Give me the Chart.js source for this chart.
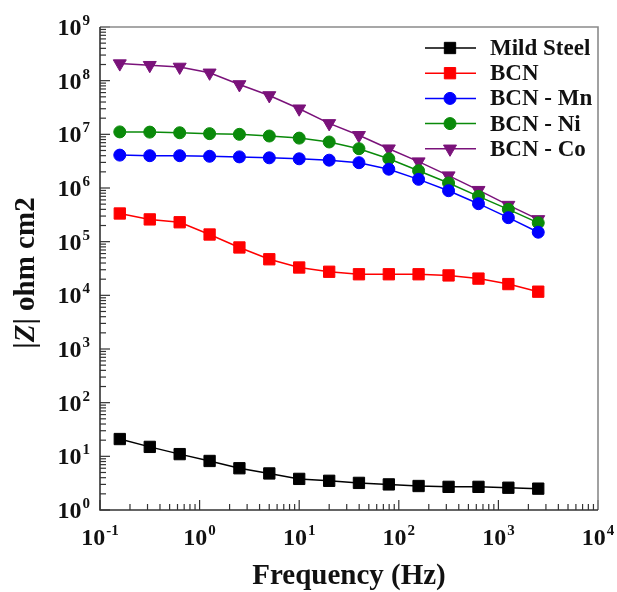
<!DOCTYPE html>
<html><head><meta charset="utf-8">
<script src="https://cdn.jsdelivr.net/npm/chart.js@4"></script>
<style>html,body{margin:0;padding:0;background:#fff}#wrap{width:617px;height:592px}</style>
</head><body><div id="wrap"><canvas id="c" width="617" height="592"></canvas></div>
<script>
// ---- data ----
const frequencies = [0.158, 0.316, 0.631, 1.26, 2.51, 5.01, 10, 20, 39.8, 79.4, 158, 316, 631, 1259, 2512];
const mildSteel = [21, 15, 11, 8.2, 6.0, 4.8, 3.8, 3.5, 3.2, 3.0, 2.8, 2.7, 2.7, 2.6, 2.5];
const bcn = [3.35e5, 2.6e5, 2.3e5, 1.36e5, 7.8e4, 4.7e4, 3.3e4, 2.75e4, 2.47e4, 2.47e4, 2.47e4, 2.35e4, 2.05e4, 1.62e4, 1.17e4];
const bcnMn = [4.1e6, 4.0e6, 4.0e6, 3.9e6, 3.8e6, 3.65e6, 3.5e6, 3.3e6, 2.96e6, 2.24e6, 1.45e6, 8.9e5, 5.1e5, 2.8e5, 1.5e5];
const bcnNi = [1.11e7, 1.1e7, 1.07e7, 1.03e7, 1.0e7, 9.3e6, 8.5e6, 7.2e6, 5.4e6, 3.5e6, 2.1e6, 1.24e6, 7.0e5, 4.0e5, 2.24e5];
const bcnCo = [2.08e8, 1.94e8, 1.8e8, 1.4e8, 8.5e7, 5.3e7, 3.0e7, 1.6e7, 9.6e6, 5.4e6, 3.1e6, 1.7e6, 9.1e5, 4.8e5, 2.6e5];
const seriesLabels = ['Mild Steel', 'BCN', 'BCN - Mn', 'BCN - Ni', 'BCN - Co'];
const xTickExponents = [-1, 0, 1, 2, 3, 4];
const yTickExponents = [0, 1, 2, 3, 4, 5, 6, 7, 8, 9];
const xTitle = 'Frequency (Hz)';

const FONT = '"Liberation Serif", "Times New Roman", serif';
const series = [mildSteel, bcn, bcnMn, bcnNi, bcnCo];
const colors = ['#000000', '#ff0000', '#0000ff', '#0a8a0a', '#7a127a'];
const styles = [
  {pointStyle: 'rect', radius: 8, rotation: 0},
  {pointStyle: 'rect', radius: 8, rotation: 0},
  {pointStyle: 'circle', radius: 6, rotation: 0},
  {pointStyle: 'circle', radius: 6, rotation: 0},
  {pointStyle: 'triangle', radius: 7.5, rotation: 180}
];

const datasets = series.map((vals, i) => ({
  label: seriesLabels[i],
  data: vals.map((v, j) => ({x: frequencies[j], y: v})),
  borderColor: colors[i],
  backgroundColor: colors[i],
  borderWidth: 1.5,
  pointStyle: styles[i].pointStyle,
  pointRadius: styles[i].radius,
  pointRotation: styles[i].rotation,
  pointBorderWidth: 1,
  pointBackgroundColor: colors[i],
  pointBorderColor: colors[i],
  tension: 0
}));

function drawPow(ctx, e, x, y, align) {
  ctx.font = 'bold 24px ' + FONT;
  const w1 = ctx.measureText('10').width;
  ctx.font = 'bold 15px ' + FONT;
  const es = String(e);
  const w2 = ctx.measureText(es).width;
  const total = w1 + w2 + 1;
  let sx = align === 'center' ? x - total / 2 : x - total;
  ctx.textAlign = 'left';
  ctx.textBaseline = 'alphabetic';
  ctx.font = 'bold 24px ' + FONT;
  ctx.fillText('10', sx, y);
  ctx.font = 'bold 15px ' + FONT;
  ctx.fillText(es, sx + w1 + 1, y - 10);
}

const decor = {
  id: 'decor',
  beforeDatasetsDraw(chart) {
    const {ctx, chartArea: a, scales: {x, y}} = chart;
    ctx.save();
    ctx.lineWidth = 1.2;
    ctx.strokeStyle = '#333';
    for (let i = 0; i < yTickExponents.length; i++) {
      const e = yTickExponents[i];
      for (let k = 1; k <= 9; k++) {
        const v = k * Math.pow(10, e);
        if (v > y.max || v < y.min) continue;
        const py = y.getPixelForValue(v);
        const len = k === 1 ? 10 : 6;
        ctx.beginPath(); ctx.moveTo(a.left, py); ctx.lineTo(a.left + len, py); ctx.stroke();
      }
    }
    for (let i = 0; i < xTickExponents.length; i++) {
      const e = xTickExponents[i];
      for (let k = 1; k <= 9; k++) {
        const v = k * Math.pow(10, e);
        if (v > x.max * 1.0001 || v < x.min * 0.9999) continue;
        const px = x.getPixelForValue(v);
        const len = k === 1 ? 10 : 6;
        ctx.beginPath(); ctx.moveTo(px, a.bottom); ctx.lineTo(px, a.bottom - len); ctx.stroke();
      }
    }
    ctx.lineWidth = 1.6;
    ctx.strokeStyle = '#8a8a8a';
    ctx.beginPath(); ctx.moveTo(a.left, a.top); ctx.lineTo(a.right, a.top); ctx.lineTo(a.right, a.bottom); ctx.stroke();
    ctx.strokeStyle = '#333';
    ctx.beginPath(); ctx.moveTo(a.left, a.top); ctx.lineTo(a.left, a.bottom); ctx.lineTo(a.right, a.bottom); ctx.stroke();
    ctx.restore();
  },
  afterDraw(chart) {
    const {ctx, chartArea: a, scales: {x, y}} = chart;
    ctx.save();
    ctx.fillStyle = '#111';
    xTickExponents.forEach(e => drawPow(ctx, e, x.getPixelForValue(Math.pow(10, e)), a.bottom + 35, 'center'));
    yTickExponents.forEach(e => drawPow(ctx, e, a.left - 10, y.getPixelForValue(Math.pow(10, e)) + 8, 'right'));
    ctx.font = 'bold 29px ' + FONT;
    ctx.textAlign = 'center';
    ctx.textBaseline = 'alphabetic';
    ctx.fillText(xTitle, (a.left + a.right) / 2, 584);
    ctx.save();
    ctx.translate(27, 273);
    ctx.rotate(-Math.PI / 2);
    const parts = [['|', 'bold 29px '], ['Z', 'italic bold 29px '], ['| ohm cm2', 'bold 29px ']];
    let tw = 0;
    parts.forEach(p => { ctx.font = p[1] + FONT; tw += ctx.measureText(p[0]).width; });
    let sx = -tw / 2;
    ctx.textAlign = 'left';
    ctx.textBaseline = 'middle';
    parts.forEach(p => { ctx.font = p[1] + FONT; ctx.fillText(p[0], sx, 0); sx += ctx.measureText(p[0]).width; });
    ctx.restore();
    chart.data.datasets.forEach((ds, i) => {
      const ly = 48 + i * 25.2;
      ctx.strokeStyle = ds.borderColor;
      ctx.fillStyle = ds.borderColor;
      ctx.lineWidth = 1.5;
      ctx.beginPath(); ctx.moveTo(425, ly); ctx.lineTo(476, ly); ctx.stroke();
      ctx.lineWidth = 1;
      Chart.helpers.drawPoint(ctx, {pointStyle: ds.pointStyle, radius: ds.pointRadius, rotation: ds.pointRotation, borderWidth: 1}, 450, ly);
      ctx.fillStyle = '#111';
      ctx.font = 'bold 23px ' + FONT;
      ctx.textAlign = 'left';
      ctx.textBaseline = 'middle';
      ctx.fillText(ds.label, 490, ly + 1);
    });
    ctx.restore();
  }
};

new Chart(document.getElementById('c'), {
  type: 'line',
  data: {datasets},
  options: {
    responsive: false,
    animation: false,
    devicePixelRatio: 1,
    layout: {padding: {top: 27, right: 19, left: 0, bottom: 0}},
    plugins: {legend: {display: false}, tooltip: {enabled: false}},
    scales: {
      x: {
        type: 'logarithmic', min: 0.1, max: 1e4,
        ticks: {display: false}, grid: {display: false}, border: {display: false},
        afterFit(s) { s.height = 82; }
      },
      y: {
        type: 'logarithmic', min: 1, max: 1e9,
        ticks: {display: false}, grid: {display: false}, border: {display: false},
        afterFit(s) { s.width = 100; }
      }
    }
  },
  plugins: [decor]
});
</script>
</body></html>
